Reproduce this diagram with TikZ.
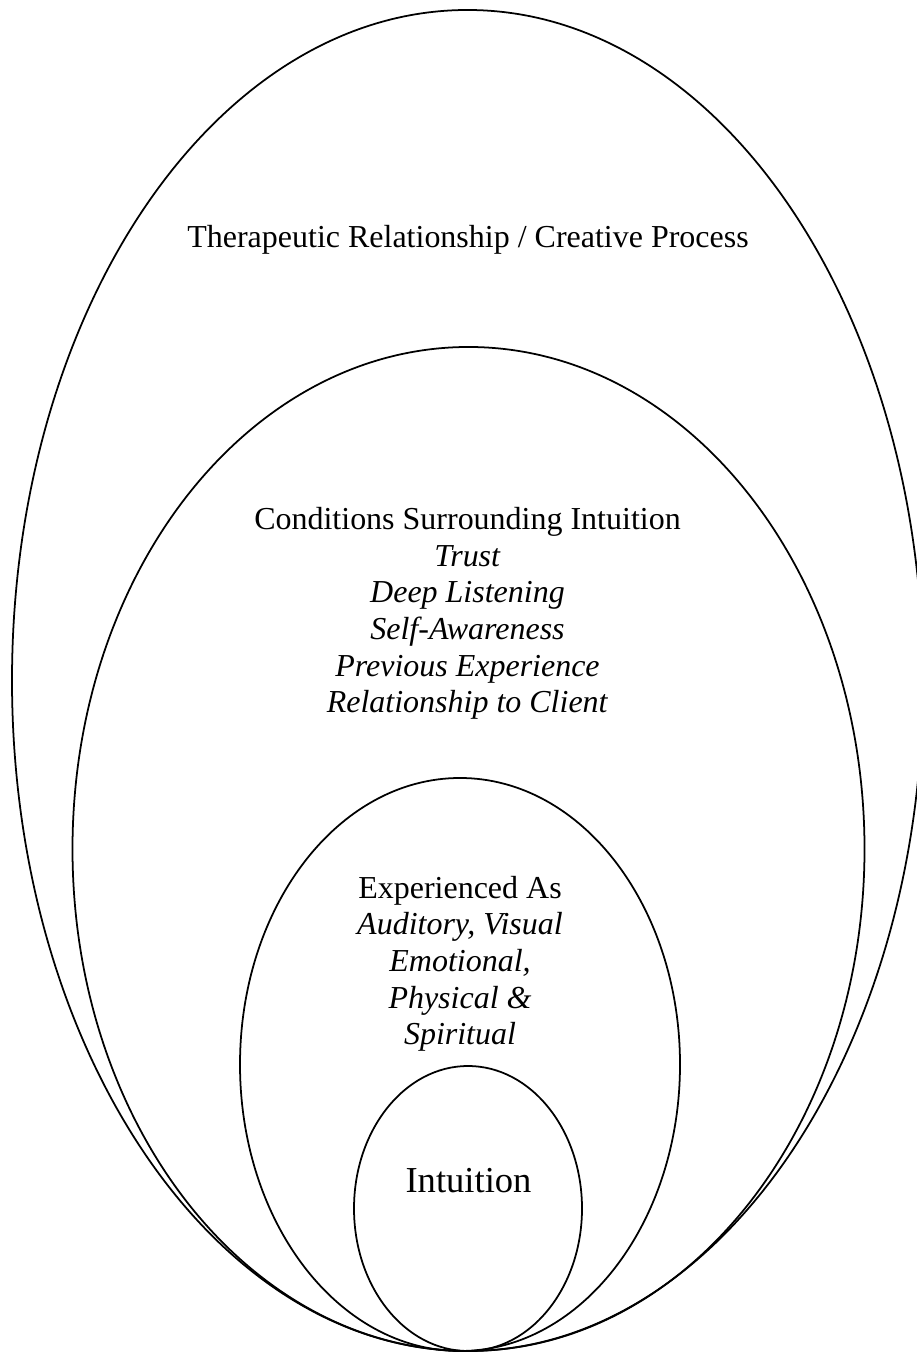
\documentclass[tikz,border=0pt]{standalone}
\usepackage{fontspec}
\setmainfont{Liberation Serif}

\tikzset{
  ring/.style={line width=1pt},
  lbl/.style={anchor=base, align=center, inner sep=0pt,
    font=\fontsize{18.2}{20.9}\selectfont},
  core/.style={anchor=base, inner sep=0pt,
    font=\fontsize{20.8}{24}\selectfont},
}

\begin{document}
\begin{tikzpicture}
    \useasboundingbox (0,0) rectangle (18.34,27.06);

    % ellipses, all touching at the bottom
    \draw[ring] (9.35,13.45) ellipse (9.11 and 13.41);
    \draw[ring] (9.37,10.08) ellipse (7.92 and 10.04);
    \draw[ring] (9.2,5.77) ellipse (4.4 and 5.73);
    \draw[ring] (9.36,2.89) ellipse (2.28 and 2.85);

    % labels (base = baseline of the last line)
    \node[lbl] (process) at (9.36,22.1) {Therapeutic Relationship / Creative Process};
    \node[lbl] (conditions) at (9.35,12.8) {Conditions Surrounding Intuition\\
        \textit{Trust}\\ \textit{Deep Listening}\\ \textit{Self-Awareness}\\
        \textit{Previous Experience}\\ \textit{Relationship to Client}};
    \node[lbl] (experienced) at (9.2,6.16) {Experienced As\\
        \textit{Auditory, Visual}\\ \textit{Emotional,}\\ \textit{Physical \&}\\ \textit{Spiritual}};
    \node[core] (intuition) at (9.37,3.2) {Intuition};
\end{tikzpicture}
\end{document}
